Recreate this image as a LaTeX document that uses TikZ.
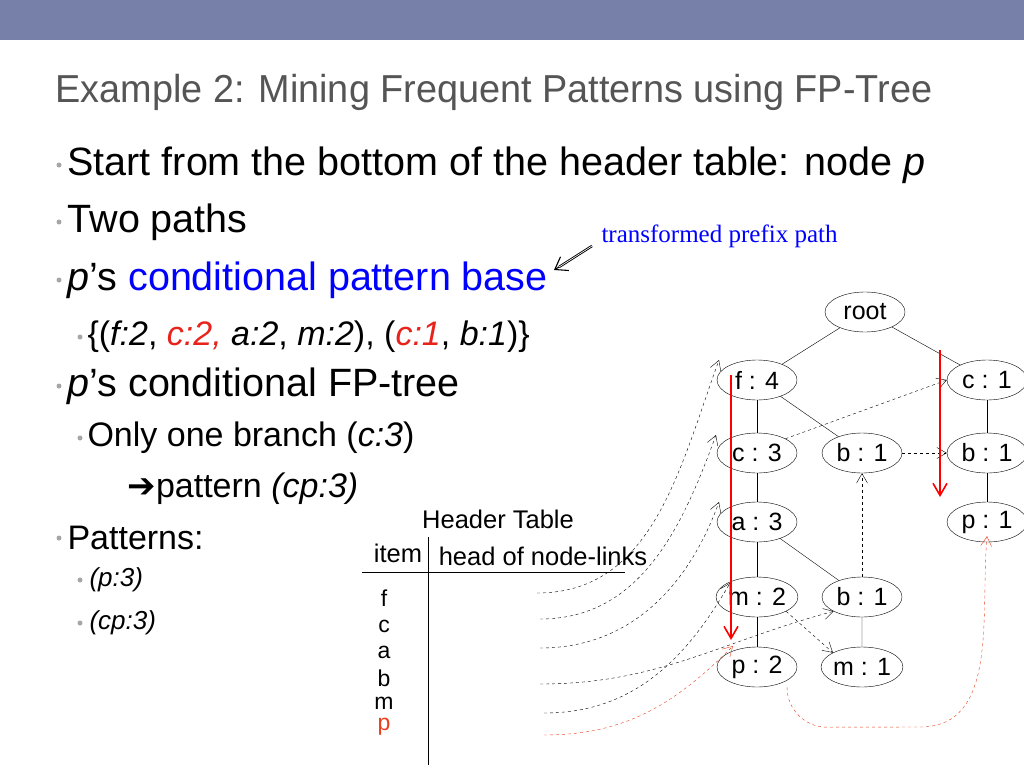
\documentclass[tikz,border=0pt]{standalone}
\usepackage{fontspec}
\setmainfont{Liberation Sans}
\newfontfamily\symfont{DejaVu Sans}
\newfontfamily\serifont{Liberation Serif}
\usetikzlibrary{shapes.geometric,arrows.meta}
\definecolor{barblue}{HTML}{7680A8}
\definecolor{titlegray}{HTML}{555555}
\definecolor{hotred}{HTML}{E8231C}
\definecolor{itemred}{HTML}{E8401C}
\tikzset{
  tnode/.style={ellipse, draw, minimum width=80pt, minimum height=40pt, inner sep=0pt, font=\fontsize{25}{26}\selectfont},
  link/.style={dashed, -{Straight Barb[angle=60:11pt]}},
  redpath/.style={red, line width=1.6pt, -{Straight Barb[angle=60:14pt]}},
  bul/.style={circle, fill=gray!70, inner sep=0pt, minimum size=5pt},
  big/.style={anchor=west, font=\fontsize{39.5}{42}\selectfont},
  mid/.style={anchor=west, font=\fontsize{34}{36}\selectfont},
  small/.style={anchor=west, font=\fontsize{26}{28}\selectfont},
  item/.style={font=\fontsize{25.5}{27}\selectfont, inner sep=0pt},
  hrow/.style={font=\fontsize{23}{24}\selectfont, inner sep=0pt}
}
\begin{document}
\begin{tikzpicture}[x=1pt,y=-1pt]
    \useasboundingbox (0,0) rectangle (1024,768);
    \fill[barblue] (0,0) rectangle (1024,40);
    % Title
    \node[anchor=west, text=titlegray, font=\fontsize{39}{40}\selectfont, xscale=0.97] (title) at (52,92) {Example 2: Mining Frequent Patterns using FP-Tree};

    % Bullets
    \node[bul] at (59,165) {}; \node[big] (l1) at (64,165) {Start from the bottom of the header table: node \textit{p}};
    \node[bul] at (59,222) {}; \node[big] (l2) at (64,222) {Two paths};
    \node[bul] at (59,280) {}; \node[big] (l3) at (64,280) {\textit{p}'s \textcolor{blue}{conditional pattern base}};
    \node[bul] at (80,337) {}; \node[mid] (l4) at (84,337) {\{(\textit{f:2}, \textcolor{hotred}{\textit{c:2,}} \textit{a:2}, \textit{m:2}), (\textcolor{hotred}{\textit{c:1}}, \textit{b:1})\}};
    \node[bul] at (59,386) {}; \node[big] (l5) at (64,386) {\textit{p}'s conditional FP-tree};
    \node[bul] at (80,438) {}; \node[mid] (l6) at (84,438) {Only one branch (\textit{c:3})};
    \node[mid] (l7) at (124,489) {{\symfont ➔}pattern \textit{(cp:3)}};
    \node[bul] at (59,538) {}; \node[mid] (l8) at (64,538) {Patterns:};
    \node[bul] at (80,580) {}; \node[small] (l9) at (86,580) {\textit{(p:3)}};
    \node[bul] at (80,623) {}; \node[small] (l10) at (86,623) {\textit{(cp:3)}};

    % Annotation
    \node[anchor=west, text=blue, font=\serifont\fontsize{25}{26}\selectfont] (note) at (598,236) {transformed prefix path};
    \coordinate (nt) at (592,246);
    \coordinate (nb) at (559,267);
    \coordinate (nh) at (554,270);
    \draw[double, line width=0.9pt] (nt) -- (nb);
    \draw[line width=1.1pt, -{Straight Barb[angle=70:14pt]}] (nb) -- (nh);

    % Header table
    \node[item] (ht) at (498,519) {Header Table};
    \node[item] (hitem) at (398,553) {item};
    \node[item] (hhead) at (543,556) {head of node-links};
    \draw (362,572) -- (625,572);
    \draw (428,537) -- (428,765);
    \node[hrow] (hf) at (384,598) {f};
    \node[hrow] (hc) at (384,626) {c};
    \node[hrow] (ha) at (384,652) {a};
    \node[hrow] (hb) at (384,678) {b};
    \node[hrow] (hm) at (384,703) {m};
    \node[hrow, text=itemred] (hp) at (384,727) {p};
    \coordinate (rf) at (537,593);
    \coordinate (rc) at (540,619);
    \coordinate (ra) at (540,648);
    \coordinate (rb) at (540,684);
    \coordinate (rm) at (544,713);
    \coordinate (rp) at (544,735);

    % Tree
    \node[tnode] (root) at (865,312) {root};
    \node[tnode] (f4) at (757,380) {f : 4};
    \node[tnode] (c1) at (987,380) {c : 1};
    \node[tnode] (c3) at (757,453) {c : 3};
    \node[tnode] (b1) at (862,453) {b : 1};
    \node[tnode] (b1r) at (987,453) {b : 1};
    \node[tnode] (a3) at (757,522) {a : 3};
    \node[tnode] (p1) at (987,522) {p : 1};
    \node[tnode] (m2) at (757,597) {m : 2};
    \node[tnode] (b1m) at (862,597) {b : 1};
    \node[tnode] (p2) at (757,667) {p : 2};
    \node[tnode] (m1) at (862,667) {m : 1};
    \draw (root) -- (f4);
    \draw (root) -- (c1);
    \draw (f4) -- (c3) -- (a3) -- (m2) -- (p2);
    \draw (f4) -- (b1);
    \draw (a3) -- (b1m) -- (m1);
    \draw (c1) -- (b1r) -- (p1);

    % Node-links
    \draw[link] (c3.north east) -- (c1.west);
    \draw[link] (b1) -- (b1r);
    \draw[link] (b1m) -- (b1);
    \draw[link] (m2.south east) -- (m1.north west);
    \draw[link] (rf) to[out=0,in=250] ([xshift=-38pt,yshift=20pt]f4.center);
    \draw[link] (rc) to[out=0,in=250] ([xshift=-41pt,yshift=18pt]c3.center);
    \draw[link] (ra) to[out=0,in=250] ([xshift=-38pt,yshift=20pt]a3.center);
    \draw[link] (rb) to[out=0,in=195] (b1m.south west);
    \draw[link] (rm) to[out=0,in=240] ([xshift=-27pt,yshift=14pt]m2.center);
    \draw[link, itemred] (rp) to[out=0,in=225] ([xshift=-24pt,yshift=21pt]p2.center);
    \draw[link, itemred] ([xshift=30pt]p2.south) to[out=270,in=180] ++(40,40) -- (920,727) to[out=0,in=265] ([yshift=6pt]p1.south);

    % Prefix paths
    \draw[redpath] (731,375) -- (731,640);
    \draw[redpath] (940,350) -- (940,497);
\end{tikzpicture}
\end{document}
